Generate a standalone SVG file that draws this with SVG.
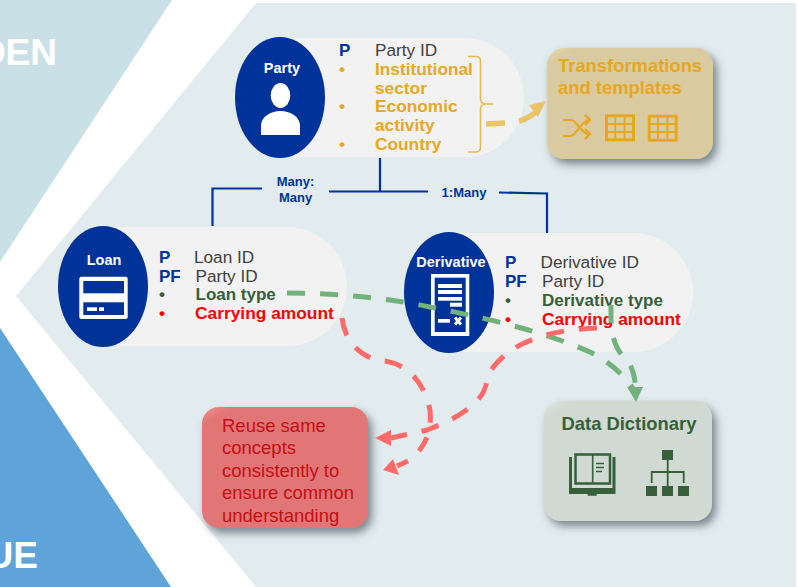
<svg xmlns="http://www.w3.org/2000/svg" width="798" height="587" viewBox="0 0 798 587">
<style>
text{font-family:"Liberation Sans",Arial,sans-serif}
.b{font-weight:700}
.pk{font-weight:700;fill:#003399;font-size:17px}
.id{fill:#404040;font-size:17.2px}
.or{font-weight:700;fill:#e6a820;font-size:17.3px}
.gr{font-weight:700;fill:#375f3a;font-size:17px}
.rd{font-weight:700;fill:#ff0000;font-size:17.35px}
.title{font-weight:700;fill:#fff;font-size:14.5px;text-anchor:middle}
.rel{font-weight:700;fill:#003399;font-size:13px;text-anchor:middle}
.pill{fill:#f2f2f2}
.oval{fill:#003399}
.link{fill:none;stroke:#003399;stroke-width:2.2}
.dash{fill:none;stroke-width:5;stroke-dasharray:18 15}
.white{fill:#fff}
.blue{fill:#003399}
.tbl{fill:none;stroke:#e6a820}
.dk{fill:#375f3a}
.dkl{fill:none;stroke:#375f3a}
</style>
<defs>
<filter id="card" x="-20%" y="-20%" width="145%" height="145%">
<feGaussianBlur in="SourceAlpha" stdDeviation="4.500"/>
<feOffset dx="4" dy="5" result="s"/>
<feFlood flood-color="#4d5a63" flood-opacity="0.7"/>
<feComposite in2="s" operator="in" result="shadow"/>
<feMerge><feMergeNode in="shadow"/><feMergeNode in="SourceGraphic"/></feMerge>
</filter>
<linearGradient id="gT" x1="0" y1="0" x2="0.25" y2="0.3"><stop offset="0" stop-color="#e9dcb6"/><stop offset="0.3" stop-color="#d9ca9f"/></linearGradient>
<linearGradient id="gD" x1="0" y1="0" x2="0.25" y2="0.3"><stop offset="0" stop-color="#e0e8e1"/><stop offset="0.3" stop-color="#d0d9d2"/></linearGradient>
<linearGradient id="gR" x1="0" y1="0" x2="0.25" y2="0.3"><stop offset="0" stop-color="#f58e8e"/><stop offset="0.3" stop-color="#e27676"/></linearGradient>
</defs>

<g id="background">
<rect width="798" height="587" fill="#fff"/>
<polygon points="0,0 172,0 0,262" fill="#c9e1e6"/>
<polygon points="0,328 171,587 0,587" fill="#5ea4d9"/>
<polygon points="256,3 796,3 796,587 256,587 16,296" fill="#e2ebee"/>
<text x="57" y="65" text-anchor="end" class="b" font-size="37" fill="#fff">DEN</text>
<text x="38" y="568" text-anchor="end" class="b" font-size="37" fill="#fff">UE</text>
</g>

<g id="node-party">
<path class="pill" d="M280,38H464.300A59.700,59.750 0 0 1 464.300,157.500H280Z"/>
<ellipse class="oval" cx="280" cy="97.500" rx="45" ry="60.500"/>
<text class="title" x="282" y="73">Party</text>
<ellipse class="white" cx="280.500" cy="95.500" rx="9.800" ry="12.500"/>
<path class="white" d="M261,135V126C261,116 272,111 280.500,111C289,111 300,116 300,126V135Z"/>
<text class="pk" x="339" y="56">P</text>
<text class="id" x="375" y="56">Party ID</text>
<text class="or" x="339" y="75">•</text>
<text class="or" x="375" y="75">Institutional</text>
<text class="or" x="375" y="94">sector</text>
<text class="or" x="339" y="112">•</text>
<text class="or" x="375" y="112">Economic</text>
<text class="or" x="375" y="131">activity</text>
<text class="or" x="339" y="150">•</text>
<text class="or" x="375" y="150">Country</text>
<path fill="none" stroke="#e9b956" stroke-width="1.600" d="M468,56.500H476Q480.500,56.500 480.500,61V98Q480.500,104 486,104H493M486,104Q480.500,104 480.500,110V147Q480.500,152 476,152H468"/>
</g>

<g id="node-loan">
<path class="pill" d="M103,227H287.500A59.500,59.500 0 0 1 287.500,346H103Z"/>
<ellipse class="oval" cx="103" cy="286.500" rx="45" ry="60.500"/>
<text class="title" x="104" y="265">Loan</text>
<rect class="white" x="79.300" y="276.700" width="48.400" height="42.300" rx="2"/>
<rect class="blue" x="83.300" y="281" width="40.700" height="12.300"/>
<rect class="blue" x="83.300" y="302.300" width="40.700" height="12.700"/>
<rect class="white" x="87" y="307.300" width="10" height="3.700"/>
<rect class="white" x="99" y="307.300" width="5" height="3.700"/>
<text class="pk" x="159" y="263">P</text>
<text class="id" x="194" y="263">Loan ID</text>
<text class="pk" x="159" y="282">PF</text>
<text class="id" x="195.500" y="282">Party ID</text>
<text class="gr" x="159" y="300">•</text>
<text class="gr" x="195.500" y="300">Loan type</text>
<text class="rd" x="159" y="319">•</text>
<text class="rd" x="195" y="319">Carrying amount</text>
</g>

<g id="node-derivative">
<path class="pill" d="M449,233H633.500A59.500,59.500 0 0 1 633.500,352H449Z"/>
<ellipse class="oval" cx="449" cy="292.500" rx="45" ry="60.500"/>
<text class="title" x="451" y="267">Derivative</text>
<rect class="white" x="431" y="274" width="38.300" height="62"/>
<rect class="blue" x="434.700" y="277.700" width="31" height="54.300"/>
<g class="white">
<rect x="438" y="284" width="24" height="4"/>
<rect x="438" y="290" width="24" height="4"/>
<rect x="438" y="297" width="24" height="3.700"/>
<rect x="450" y="302.700" width="12" height="4"/>
<rect x="438" y="319" width="12" height="3.700"/>
</g>
<path stroke="#fff" stroke-width="3" d="M455,317.500L461,324.500M461,317.500L455,324.500"/>
<text class="pk" x="505" y="268">P</text>
<text class="id" x="540.500" y="268">Derivative ID</text>
<text class="pk" x="505" y="287">PF</text>
<text class="id" x="542" y="287">Party ID</text>
<text class="gr" x="505" y="306">•</text>
<text class="gr" x="542" y="306">Derivative type</text>
<text class="rd" x="505" y="325">•</text>
<text class="rd" x="542" y="325">Carrying amount</text>
</g>

<g id="node-transformations">
<rect x="547" y="48" width="166" height="111" rx="17" fill="url(#gT)" filter="url(#card)"/>
<text class="b" x="558" y="72" font-size="18.400" fill="#e6a820">Transformations</text>
<text class="b" x="558" y="94" font-size="18.400" fill="#e6a820">and templates</text>
<path fill="none" stroke="#e6a820" stroke-width="2.200" d="M563,120H571C577,120 581,134 589,134M563,136H570C577,136 581,120 589,120M585,115L590,120L585,125M585,129L590,134L585,139"/>
<g class="tbl" stroke-width="3">
<rect x="606.500" y="115.800" width="27" height="24"/>
<rect x="649.200" y="116.200" width="27" height="24"/>
</g>
<path class="tbl" stroke-width="1.900" d="M615.300,115V140M624.600,115V140M606,124H634M606,132H634M658,115V140M667.400,115V140M648.700,124H676.700M648.700,132H676.700"/>
</g>

<g id="node-dictionary">
<rect x="544" y="401" width="168" height="120" rx="17" fill="url(#gD)" filter="url(#card)"/>
<text class="b" x="561.500" y="430" font-size="18.400" fill="#375f3a">Data Dictionary</text>
<rect class="dkl" stroke-width="2.500" x="575.500" y="454.500" width="34.500" height="29"/>
<path class="dkl" stroke-width="1.600" d="M592.700,455V484M596,463.500H604M596,467.500H604M596,471.500H602"/>
<path class="dk" d="M569,457H572V488H612.500V457H615.500V494H596.700V495.700H587.700V494H569Z"/>
<rect class="dk" x="662" y="450" width="11" height="10"/>
<rect class="dk" x="646" y="486" width="11" height="10"/>
<rect class="dk" x="662" y="486" width="11" height="10"/>
<rect class="dk" x="678" y="486" width="11" height="10"/>
<path class="dkl" stroke-width="1.800" d="M667.700,460V486M651.700,483V472H683.700V483"/>
</g>

<g id="node-reuse">
<rect x="202" y="407" width="166" height="121" rx="17" fill="url(#gR)" filter="url(#card)"/>
<g font-size="18.500" fill="#c40f14">
<text x="222" y="432">Reuse same</text>
<text x="222" y="454">concepts</text>
<text x="222" y="477">consistently to</text>
<text x="222" y="499" font-size="18.400">ensure common</text>
<text x="222" y="522">understanding</text>
</g>
</g>

<g id="connectors">
<path class="link" d="M380,158V191.500M329,191.500H428"/>
<path class="link" d="M499,192.500L547,193.500V233"/>
<path class="link" d="M262,188.500H212.500V226"/>
<text class="rel" x="295.500" y="186">Many:</text>
<text class="rel" x="295.500" y="202">Many</text>
<text class="rel" x="464" y="197">1:Many</text>

<path fill="none" stroke="#ecc468" stroke-width="5.500" d="M486,124L505,123M519,121C527,119 533,115 538,110"/>
<polygon fill="#ecc468" points="546,101 529,105 538,117"/>

<path class="dash" stroke="#74b27d" d="M287,293C340,293.500 390,298 435,308C480,317 540,330 590,352C610,362 625,376 634,390"/>
<path class="dash" stroke="#74b27d" d="M611,305V323C612,340 618,352 625,358C632,365 635,375 636,392"/>
<polygon fill="#74b27d" points="636,402 627,387 643,387"/>

<path class="dash" stroke="#ff6b6b" d="M342,318C345,345 365,360 385,361C410,365 425,385 430,410C432,430 426,442 419,451"/>
<path fill="none" stroke="#ff6b6b" stroke-width="5" d="M408,461L397,466"/>
<polygon fill="#ff6b6b" points="383,470 393,459 399,475"/>
<path class="dash" stroke="#ff6b6b" d="M597,328C560,329 525,338 505,355C490,368 488,375 486,385C480,410 440,425 427,430C410,434 400,436 391,438"/>
<polygon fill="#ff6b6b" points="375,438 391,430 391,446"/>
</g>
</svg>
